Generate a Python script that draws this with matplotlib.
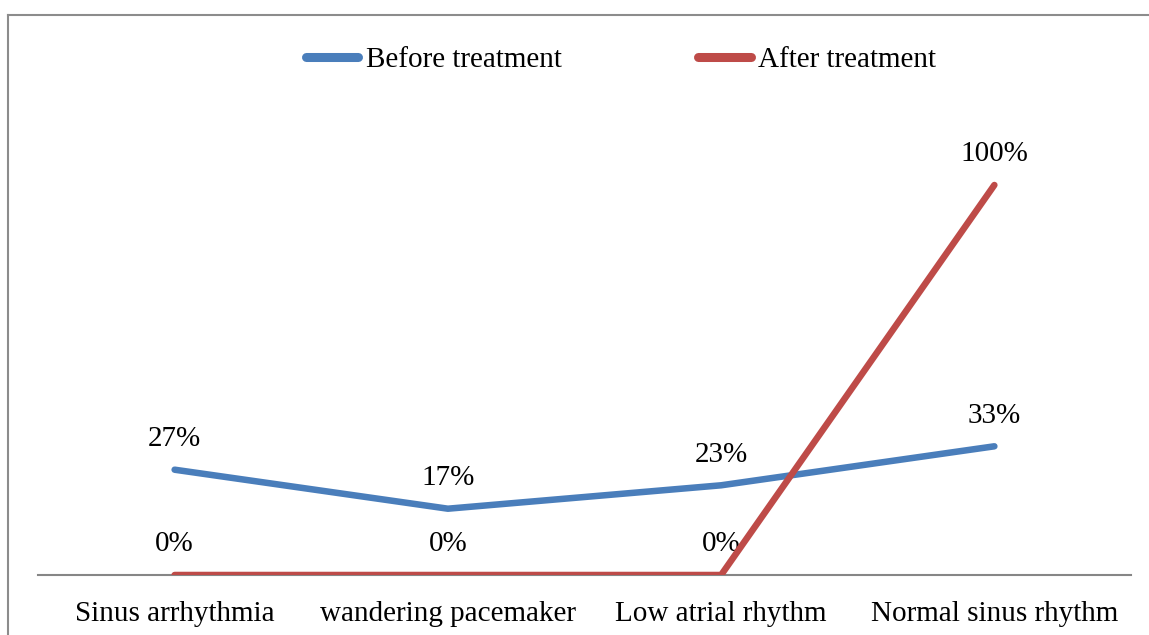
import matplotlib.pyplot as plt
from matplotlib.lines import Line2D

plt.rcParams['font.family'] = ['Liberation Serif', 'DejaVu Serif']

categories = ['Sinus arrhythmia', 'wandering pacemaker', 'Low atrial rhythm', 'Normal sinus rhythm']
before = [27, 17, 23, 33]
after = [0, 0, 0, 100]

blue = '#4a7ebb'
red = '#be4b48'

fig = plt.figure(figsize=(11.49, 6.35), dpi=100)
ax = fig.add_axes([38/1149, 60/635, (1131-38)/1149, 468/635])

x = list(range(len(categories)))
ax.plot(x, before, color=blue, lw=4.7, solid_capstyle='round', solid_joinstyle='round', label='Before treatment', zorder=3)
ax.plot(x, after, color=red, lw=4.7, solid_capstyle='round', solid_joinstyle='round', label='After treatment', zorder=4)

# data labels
for xi, v in zip(x, before):
    ax.annotate(f'{v}%', (xi, v), xytext=(0, 22), textcoords='offset points',
                ha='center', va='center', fontsize=21)
for xi, v in zip(x, after):
    ax.annotate(f'{v}%', (xi, v), xytext=(0, 22), textcoords='offset points',
                ha='center', va='center', fontsize=21)

ax.set_xlim(-0.5, 3.5)
ax.set_ylim(0, 120)
ax.set_yticks([])
ax.set_xticks(x)
ax.set_xticklabels(categories, fontsize=21)
ax.tick_params(axis='x', length=0, pad=19)
for s in ['top', 'right', 'left']:
    ax.spines[s].set_visible(False)
ax.spines['bottom'].set_color('#868686')
ax.spines['bottom'].set_linewidth(1.5)

handles = [Line2D([0], [0], color=blue, lw=6.5, solid_capstyle='round'),
           Line2D([0], [0], color=red, lw=6.5, solid_capstyle='round')]
fig.legend(handles, ['Before treatment', 'After treatment'], loc='center',
           bbox_to_anchor=(621/1149, 1 - 60/635), ncol=2, frameon=False,
           fontsize=21, handlelength=1.8, handletextpad=0.25, columnspacing=4.7,
           borderpad=0, borderaxespad=0)

# chart border (cropped at right and bottom)
fig.add_artist(Line2D([8/1149, 8/1149], [0, 1 - 15/635], color='#8c8c8c', lw=1.5))
fig.add_artist(Line2D([8/1149, 1], [1 - 15/635, 1 - 15/635], color='#8c8c8c', lw=1.5))

fig.savefig('out.png', dpi=100)
